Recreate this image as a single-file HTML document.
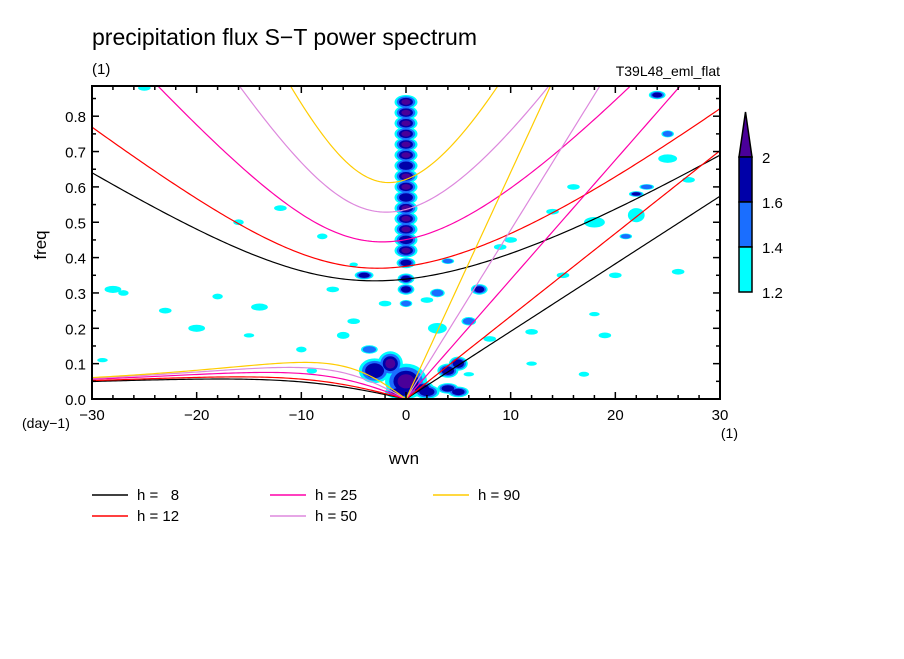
<!DOCTYPE html>
<html><head><meta charset="utf-8"><style>
body{margin:0;background:#fff;}
svg text{font-family:"Liberation Sans",sans-serif;}
</style></head><body>
<svg id="c" width="904" height="654" xmlns="http://www.w3.org/2000/svg">
<text x="92" y="45" font-size="23">precipitation flux S−T power spectrum</text>
<text x="92" y="74" font-size="15">(1)</text>
<text x="720" y="76" font-size="14" text-anchor="end">T39L48_eml_flat</text>
<defs><clipPath id="pc"><rect x="92" y="86" width="628" height="313"/></clipPath></defs>
<g id="blobs" clip-path="url(#pc)"></g>
<g id="curves" clip-path="url(#pc)"></g>
<rect x="92" y="86" width="628" height="313" fill="none" stroke="#000" stroke-width="2"/>
<g id="axes"></g>
<text x="46" y="245" font-size="17" transform="rotate(-90 46 245)" text-anchor="middle">freq</text>
<text x="404" y="464" font-size="17" text-anchor="middle">wvn</text>
<text x="22" y="428" font-size="14">(day−1)</text>
<text x="738" y="438" font-size="14" text-anchor="end">(1)</text>
<g id="cbar"></g>
<g id="legend"></g>
</svg>
<script>
const NS="http://www.w3.org/2000/svg";
const hs=[8,12,25,50,90];
const hColors=["#000000","#ff0000","#ff00aa","#dd88dd","#ffcc00"];
const xTicks=[-30,-20,-10,0,10,20,30];
const yTicks=[0.0,0.1,0.2,0.3,0.4,0.5,0.6,0.7,0.8];
const cLevels=[1.2,1.4,1.6,2];
const cColors=["#00ffff","#1a6eff","#0000a8","#4a0099"];
// contour patches: wavenumber, freq, half-width (wvn), half-height (freq), top level index
const blobK=[0,0,0,0,0,0,0,0,0,0,0,0,0,0,0,0,0,0,0,
 -3,-1.5,0,-0.5,1.5,2,4,4,5,-4,3,7,-3.5,3,6,-6,5,
 -25,-16,-12,-8,-14,-28,-23,-20,-5,4,10,15,18,21,22,23,24,25,27,26,-2,2,8,12,-10,-18,-27,-9,20,25,14,16,-7,9,17,22,19,-29,-15,-5,12,18,6];
const blobF=[0.84,0.81,0.78,0.75,0.72,0.69,0.66,0.63,0.6,0.57,0.54,0.51,0.48,0.45,0.42,0.385,0.34,0.31,0.27,
 0.08,0.1,0.05,0.02,0.03,0.02,0.03,0.08,0.1,0.35,0.3,0.31,0.14,0.2,0.22,0.18,0.02,
 0.88,0.5,0.54,0.46,0.26,0.31,0.25,0.2,0.22,0.39,0.45,0.35,0.5,0.46,0.58,0.6,0.86,0.75,0.62,0.36,0.27,0.28,0.17,0.19,0.14,0.29,0.3,0.08,0.35,0.68,0.53,0.6,0.31,0.43,0.07,0.52,0.18,0.11,0.18,0.38,0.1,0.24,0.07];
const blobRK=[1.1,1.1,1.1,1.1,1.1,1.1,1.1,1.1,1.1,1.1,1.1,1.1,1.1,1.1,1.1,0.9,0.8,0.8,0.6,
 1.5,1.2,2,1.5,1.2,1.2,1,1,0.9,0.9,0.7,0.8,0.8,0.9,0.7,0.6,1,
 0.6,0.5,0.6,0.5,0.8,0.8,0.6,0.8,0.6,0.6,0.6,0.6,1,0.6,0.7,0.7,0.8,0.6,0.6,0.6,0.6,0.6,0.6,0.6,0.5,0.5,0.5,0.5,0.6,0.9,0.6,0.6,0.6,0.6,0.5,0.8,0.6,0.5,0.5,0.4,0.5,0.5,0.5];
const blobRF=[0.02,0.02,0.02,0.02,0.02,0.02,0.02,0.02,0.02,0.02,0.02,0.02,0.02,0.02,0.02,0.015,0.015,0.015,0.01,
 0.035,0.035,0.05,0.02,0.02,0.02,0.015,0.02,0.02,0.012,0.012,0.015,0.012,0.015,0.012,0.01,0.015,
 0.008,0.008,0.008,0.008,0.01,0.01,0.008,0.01,0.008,0.008,0.008,0.008,0.015,0.008,0.008,0.008,0.012,0.01,0.008,0.008,0.008,0.008,0.008,0.008,0.008,0.008,0.008,0.008,0.008,0.012,0.008,0.008,0.008,0.008,0.007,0.02,0.008,0.006,0.006,0.006,0.006,0.006,0.006];
const blobL=[3,3,3,3,3,3,2,3,3,2,3,3,3,2,3,2,2,2,1,
 2,3,3,2,2,2,2,2,2,2,1,2,1,0,1,0,2,
 0,0,0,0,0,0,0,0,0,1,0,0,0,1,2,1,2,1,0,0,0,0,0,0,0,0,0,0,0,0,0,0,0,0,0,0,0,0,0,0,0,0,0];

const X0=92,X1=720,Y0=399,Y1=86,FMAX=(399-86)/353.5;
const sx=k=>X0+(k+30)/60*(X1-X0);
const sy=f=>Y0-f/FMAX*(Y0-Y1);
function mk(t,a,p){const e=document.createElementNS(NS,t);for(const k in a)e.setAttribute(k,a[k]);(p||document.getElementById('c')).appendChild(e);return e;}

const bg=document.getElementById('blobs');
for(let lv=0;lv<4;lv++){
  for(let i=0;i<blobK.length;i++){
    if(blobL[i]<lv)continue;
    const s=1-(lv*0.2);
    const e=mk('ellipse',{cx:sx(blobK[i]),cy:sy(blobF[i]),rx:Math.max(1.5,blobRK[i]*10.47*s),ry:Math.max(1.5,blobRF[i]*353.5*s),fill:cColors[lv]},bg);
    
    
  }
}

const g=9.81,R=6.371e6,beta=2*7.292e-5/R,toCPD=86400/(2*Math.PI);
function cubicRoots(k,c){
  const p=-(c*c*k*k+3*beta*c),q=-beta*c*c*k;
  const m=2*Math.sqrt(-p/3);
  let arg=3*q/(p*m);arg=Math.max(-1,Math.min(1,arg));
  const th=Math.acos(arg)/3;
  return [0,1,2].map(j=>m*Math.cos(th-2*Math.PI*j/3)).sort((a,b)=>a-b);
}
const cg=document.getElementById('curves');
hs.forEach((h,hi)=>{
  const c=Math.sqrt(g*h);
  let ig=[],ro=[],kv=[];
  for(let s=-30;s<=30.001;s+=0.25){
    const k=s/R;const r=cubicRoots(k,c);
    ig.push([sx(s),sy(r[2]*toCPD)]);
    if(s<=0){const w=-beta*k/(k*k+3*beta/c);ro.push([sx(s),sy(w*toCPD)]);}
    if(s>=0)kv.push([sx(s),sy(c*k*toCPD)]);
  }
  [[ig,'ig'],[ro,'rossby'],[kv,'kelvin']].forEach(([pts,n])=>{
    const e=mk('polyline',{points:pts.map(p=>p.join(',')).join(' '),fill:'none',stroke:hColors[hi],'stroke-width':1.2},cg);
    
    
  });
});

const ax=document.getElementById('axes');
for(let k=-30;k<=30;k+=2){const maj=k%10===0;
  mk('line',{x1:sx(k),x2:sx(k),y1:Y0,y2:Y0-(maj?7:4),stroke:'#000','stroke-width':1.5},ax);
  mk('line',{x1:sx(k),x2:sx(k),y1:Y1,y2:Y1+(maj?7:4),stroke:'#000','stroke-width':1.5},ax);}
for(let i=0;i<=17;i++){const f=i*0.05,maj=i%2===0;
  mk('line',{x1:X0,x2:X0+(maj?7:4),y1:sy(f),y2:sy(f),stroke:'#000','stroke-width':1.5},ax);
  mk('line',{x1:X1,x2:X1-(maj?7:4),y1:sy(f),y2:sy(f),stroke:'#000','stroke-width':1.5},ax);}
xTicks.forEach(t=>{const e=mk('text',{x:sx(t),y:Y0+21,'font-size':15,'text-anchor':'middle'},ax);e.textContent=(t<0?'−':'')+Math.abs(t);
  });
yTicks.forEach(t=>{const e=mk('text',{x:X0-6,y:sy(t)+6,'font-size':15,'text-anchor':'end'},ax);e.textContent=t.toFixed(1);
  });

const cb=document.getElementById('cbar');
const bx=739,bw=13,bh=45,btop=157;
mk('polygon',{points:`${bx},${btop} ${bx+bw},${btop} ${bx+bw/2},112`,fill:cColors[3],stroke:'#000','stroke-width':1.5},cb);
[2,1,0].forEach((ci,j)=>mk('rect',{x:bx,y:btop+j*bh,width:bw,height:bh,fill:cColors[ci],stroke:'#000','stroke-width':1.5},cb));
cLevels.slice().reverse().forEach((v,j)=>{const e=mk('text',{x:762,y:btop+j*bh+6,'font-size':15},cb);e.textContent=v;
  });

const lg=document.getElementById('legend');
const lx=[92,92,270,270,433],ly=[495,516,495,516,495];
hs.forEach((h,i)=>{
  mk('line',{x1:lx[i],x2:lx[i]+36,y1:ly[i],y2:ly[i],stroke:hColors[i],'stroke-width':1.5},lg);
  const e=mk('text',{x:lx[i]+45,y:ly[i]+5,'font-size':15},lg);
  e.textContent='h = '+(h<10?'\u2007':'')+h;
  
});
</script>
</body></html>
